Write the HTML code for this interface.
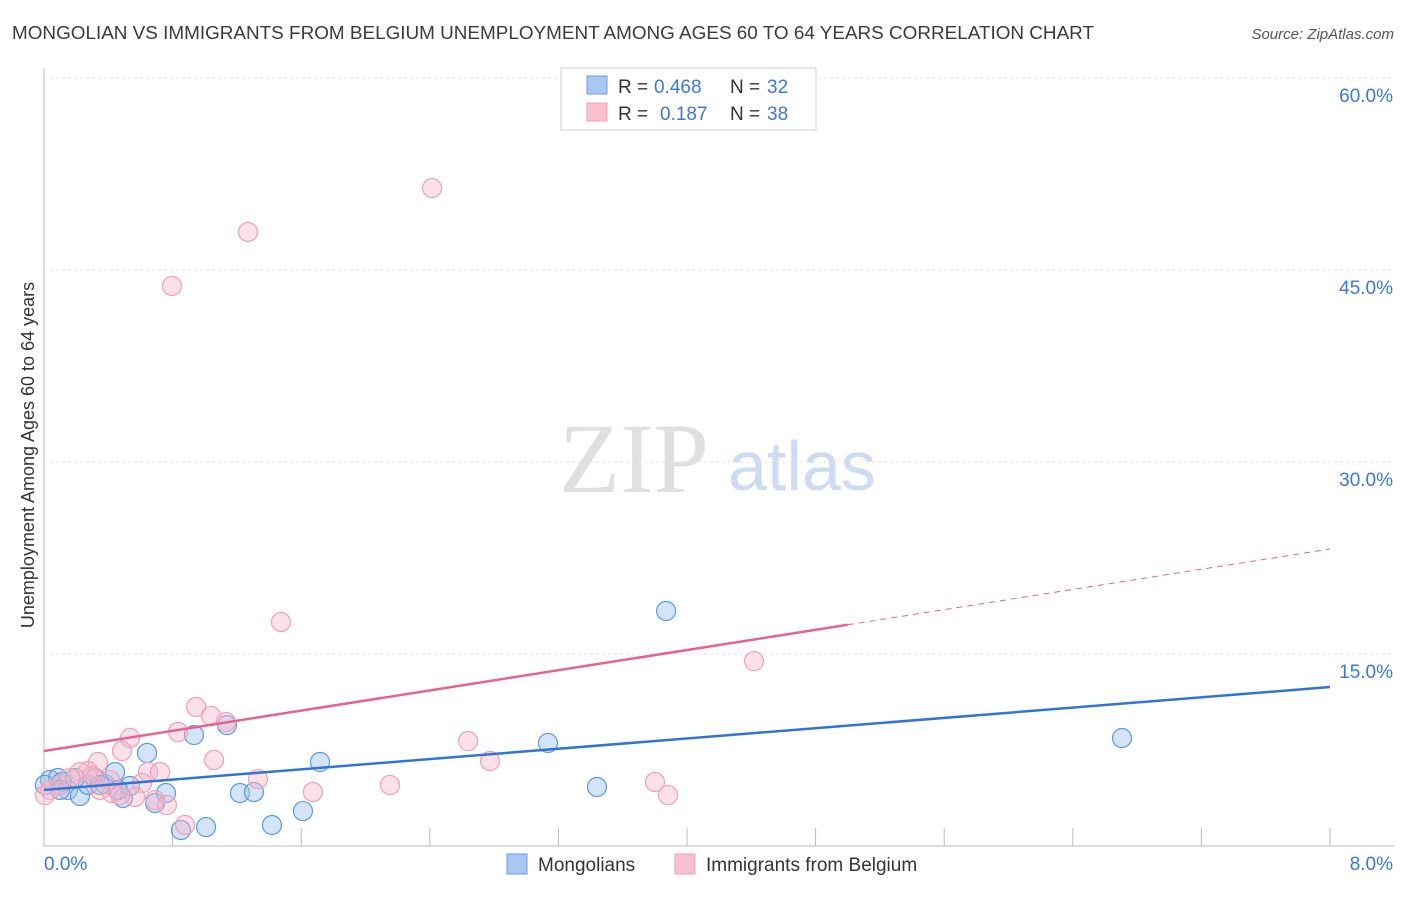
<!DOCTYPE html>
<html><head><meta charset="utf-8"><style>
body{margin:0;background:#fff;font-family:"Liberation Sans",sans-serif;}
svg text{font-family:"Liberation Sans",sans-serif;}
</style></head><body>
<svg id="c" width="1406" height="892">
<text x="12" y="39" font-size="18" fill="#3a3a3a" textLength="1082" lengthAdjust="spacingAndGlyphs">MONGOLIAN VS IMMIGRANTS FROM BELGIUM UNEMPLOYMENT AMONG AGES 60 TO 64 YEARS CORRELATION CHART</text>
<text x="1394" y="39" font-size="15" fill="#555" font-style="italic" text-anchor="end">Source: ZipAtlas.com</text>
<text x="634" y="492" font-size="100" fill="#e0e0e0" style="font-family:'Liberation Serif',serif" text-anchor="middle">ZIP</text>
<text x="802" y="490" font-size="70" fill="#cddcf2" text-anchor="middle">atlas</text>
<text transform="translate(34,455) rotate(-90)" font-size="18" fill="#333" text-anchor="middle">Unemployment Among Ages 60 to 64 years</text>
<g id="grid"></g><g id="pts"></g><g id="lines"></g>
<g>
<rect x="561" y="68" width="255" height="62" fill="#fff" stroke="#ccc"/>
<rect x="587" y="76" width="20" height="18" fill="#a8c8f4" stroke="#6a9ee0"/>
<rect x="587" y="103" width="20" height="18" fill="#f9c0d0" stroke="#f0a0b8"/>
<text x="618" y="93" font-size="19" fill="#333">R =</text>
<text x="654" y="93" font-size="19" fill="#3a78d8">0.468</text>
<text x="730" y="93" font-size="19" fill="#333">N =</text>
<text x="767" y="93" font-size="19" fill="#3a78d8">32</text>
<text x="618" y="120" font-size="19" fill="#333">R =</text>
<text x="660" y="120" font-size="19" fill="#3a78d8">0.187</text>
<text x="730" y="120" font-size="19" fill="#333">N =</text>
<text x="767" y="120" font-size="19" fill="#3a78d8">38</text>
</g>
<g>
<rect x="507" y="854" width="20" height="20" fill="#a8c8f4" stroke="#6a9ee0"/>
<text x="538" y="871" font-size="19" fill="#333">Mongolians</text>
<rect x="675" y="854" width="20" height="20" fill="#f9c0d0" stroke="#f0a0b8"/>
<text x="706" y="871" font-size="19" fill="#333">Immigrants from Belgium</text>
</g>
</svg>
<script>
const xTicks=[0,8];
const yTicks=[15,30,45,60];
const blueX=[0.037,0.087,0.112,0.149,0.224,0.274,0.317,0.379,0.442,0.491,0.535,0.641,0.691,0.759,0.852,0.933,1.008,1.138,1.219,1.306,1.418,1.611,1.717,3.135,3.44,3.87,6.706,0.006,0.1,0.348,0.46,0.193];
const blueY=[5.16,5.31,5.0,4.38,3.91,4.77,5.31,4.84,5.78,3.75,4.69,7.27,3.36,4.14,1.25,8.67,1.48,9.45,4.14,4.22,1.64,2.73,6.56,8.05,4.61,18.36,8.44,4.77,4.38,4.77,4.38,5.31];
const pinkX=[2.414,1.269,0.796,1.474,4.417,0.946,1.039,1.132,0.834,0.535,0.485,0.336,0.274,0.224,0.647,0.722,0.61,0.423,0.411,1.331,1.058,2.638,2.775,2.152,1.673,3.801,3.882,0.691,0.765,0.877,0.037,0.1,0.162,0.299,0.566,0.006,0.348,0.473];
const pinkY=[51.4,47.97,43.75,17.5,14.45,10.86,10.16,9.69,8.91,8.44,7.42,6.56,5.86,5.78,5.78,5.78,4.92,4.14,5.16,5.23,6.72,8.2,6.64,4.77,4.22,5.0,3.98,3.59,3.2,1.64,4.38,4.77,5.31,5.47,3.83,3.98,4.38,3.98];
const blueTrend=[4.38,12.42];
const pinkTrend=[7.42,23.2];
const pinkSolidEnd=5.0;
const NS='http://www.w3.org/2000/svg';
const sx=v=>44+v/8*1286, sy=v=>846-v/15*192;
function mk(t,a,p){const e=document.createElementNS(NS,t);for(const k in a)e.setAttribute(k,a[k]);document.getElementById(p).appendChild(e);return e;}
yTicks.forEach(v=>{
 const g=mk('line',{x1:44,x2:1394,y1:sy(v),y2:sy(v),stroke:'#e4e4e4','stroke-dasharray':'3,3'},'grid');
 
 
 const t=mk('text',{x:1393,y:sy(v)+24,'font-size':19,fill:'#3a78d8','text-anchor':'end'},'grid');
 t.textContent=v.toFixed(1)+'%';
 
 
});
mk('line',{x1:44,x2:44,y1:68,y2:846,stroke:'#bbb'},'grid');
mk('line',{x1:44,x2:1394,y1:846,y2:846,stroke:'#bbb'},'grid');
for(let i=1;i<=10;i++){const x=sx(i*0.8);mk('line',{x1:x,x2:x,y1:828,y2:846,stroke:'#bbb'},'grid');}
xTicks.forEach((v,i)=>{
 const t=mk('text',{x:i?1393:44,y:870,'font-size':19,fill:'#3a78d8','text-anchor':i?'end':'start'},'grid');
 t.textContent=v.toFixed(1)+'%';
 
 
});
function pts(X,Y,fill,stroke,name){X.forEach((x,i)=>{
 const c=mk('circle',{cx:sx(x),cy:sy(Y[i]),r:9.5,fill:fill,stroke:stroke,'stroke-width':1.2},'pts');
 
 
});}
pts(blueX,blueY,'rgba(160,196,240,0.45)','#5b9ae0','mongolian-point');
pts(pinkX,pinkY,'rgba(247,180,200,0.4)','#f0a0b8','belgium-point');
const bl=mk('line',{x1:sx(0),y1:sy(blueTrend[0]),x2:sx(8),y2:sy(blueTrend[1]),stroke:'#2f74d6','stroke-width':2.5},'lines');


const pe=pinkTrend[0]+(pinkTrend[1]-pinkTrend[0])*pinkSolidEnd/8;
const pl=mk('line',{x1:sx(0),y1:sy(pinkTrend[0]),x2:sx(pinkSolidEnd),y2:sy(pe),stroke:'#e8628e','stroke-width':2.5},'lines');


const pd=mk('line',{x1:sx(pinkSolidEnd),y1:sy(pe),x2:sx(8),y2:sy(pinkTrend[1]),stroke:'#e8628e','stroke-width':1,'stroke-dasharray':'6,5'},'lines');


</script>
</body></html>
